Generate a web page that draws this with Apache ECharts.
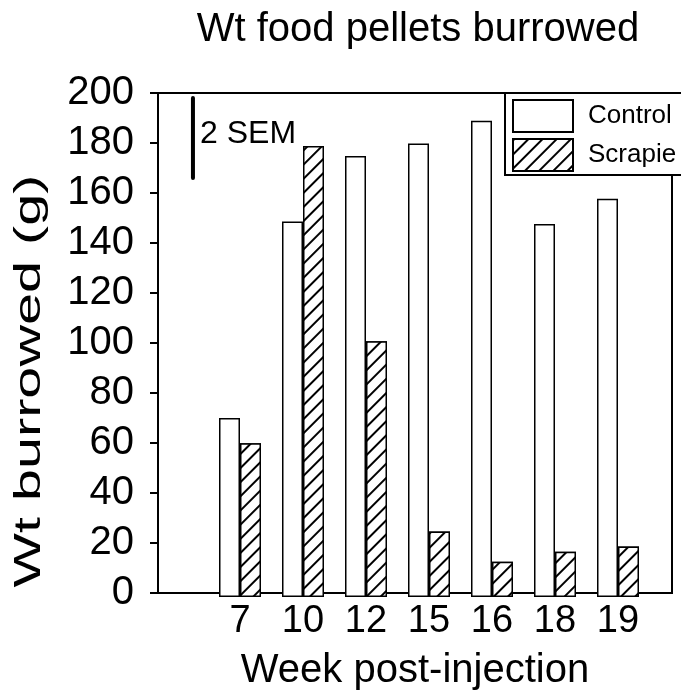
<!DOCTYPE html>
<html>
<head>
<meta charset="utf-8">
<script src="https://cdn.jsdelivr.net/npm/echarts@6/dist/echarts.min.js"></script>
<style>
html,body{margin:0;padding:0;background:#fff;}
#chart{width:681px;height:696px;}
</style>
</head>
<body>
<div id="chart"></div>
<script>
// ---- data ----
const weeks = ['7', '10', '12', '15', '16', '18', '19'];
const control = [71, 149, 175, 180, 189, 148, 158];
const scrapie = [61, 179, 101.5, 26, 14, 18, 20];
const yMin = 0, yMax = 200, yStep = 20;
const semTop = 198;      // top of the 2-SEM scale bar (g)
const semLength = 32;    // length of 2 SEM (g)
const titleText = 'Wt food pellets burrowed';
const xName = 'Week post-injection';
const yName = 'Wt burrowed (g)';

const FONT = '"Liberation Sans", Arial, sans-serif';
const chart = echarts.init(document.getElementById('chart'));

const hatch = {
  symbol: 'rect', symbolSize: 1, color: '#000', backgroundColor: '#fff',
  dashArrayX: [1, 0], dashArrayY: [1.2, 8], rotation: -Math.PI / 4
};

chart.setOption({
  animation: false,
  backgroundColor: '#fff',
  title: {
    text: titleText, left: 413, top: 5, textAlign: 'center',
    textStyle: { fontFamily: FONT, fontSize: 40, fontWeight: 'normal', color: '#000' }
  },
  legend: {
    left: 505, top: 93, orient: 'vertical',
    itemWidth: 60, itemHeight: 32, itemGap: 5,
    padding: [6, 7, 3, 7],
    borderColor: '#000', borderWidth: 2, backgroundColor: '#fff',
    textStyle: { fontFamily: FONT, fontSize: 26, color: '#000', padding: [4, 0, 0, 10] },
    data: [{ name: 'Control', icon: 'rect' }, { name: 'Scrapie', icon: 'rect' }]
  },
  grid: [
    { left: 158, right: 9, top: 93, bottom: 99, show: true, borderColor: '#000', borderWidth: 2, backgroundColor: 'transparent' },
    { left: 208.5, right: 31.5, top: 93, bottom: 99 }
  ],
  xAxis: [
    {
      gridIndex: 0, type: 'value', min: 0, max: 1,
      axisLine: { show: true, lineStyle: { color: '#000', width: 2 } },
      axisTick: { show: false }, axisLabel: { show: false }, splitLine: { show: false },
      name: xName, nameLocation: 'middle', nameGap: 58,
      nameTextStyle: { fontFamily: FONT, fontSize: 40, color: '#000' }
    },
    {
      gridIndex: 1, type: 'category', data: weeks,
      axisLine: { show: false }, axisTick: { show: false },
      axisLabel: { fontFamily: FONT, fontSize: 38, color: '#000', margin: 6 }
    }
  ],
  yAxis: [
    {
      gridIndex: 0, type: 'value', min: yMin, max: yMax, interval: yStep,
      axisLine: { show: true, lineStyle: { color: '#000', width: 2 } },
      axisTick: { show: true, inside: false, length: 8, lineStyle: { color: '#000', width: 2 } },
      axisLabel: { fontFamily: FONT, fontSize: 40, color: '#000', margin: 24 },
      splitLine: { show: false }
    },
    {
      gridIndex: 1, type: 'value', min: yMin, max: yMax, show: false
    }
  ],
  graphic: [
    {
      type: 'text', x: 30, y: 381, rotation: Math.PI / 2, scaleX: 1.6,
      style: { text: yName, fontFamily: FONT, fontSize: 36, fill: '#000', textAlign: 'center', textVerticalAlign: 'middle' }
    },
    {
      type: 'text', x: 200, y: 118,
      style: { text: '2 SEM', fontFamily: FONT, fontSize: 32, fill: '#000', textAlign: 'left', textVerticalAlign: 'top' }
    }
  ],
  series: [
    {
      name: 'Control', type: 'bar', xAxisIndex: 1, yAxisIndex: 1,
      data: control, barWidth: 21, barGap: '0%',
      itemStyle: { color: '#fff', borderColor: '#000', borderWidth: 1.5 }
    },
    {
      name: 'Scrapie', type: 'bar', xAxisIndex: 1, yAxisIndex: 1,
      data: scrapie, barWidth: 21, barGap: '0%',
      itemStyle: { color: '#fff', borderColor: '#000', borderWidth: 1.5, decal: hatch }
    },
    {
      name: 'sem', type: 'line', xAxisIndex: 0, yAxisIndex: 0,
      data: [[0.068, semTop], [0.068, semTop - semLength]],
      symbol: 'none', silent: true,
      lineStyle: { color: '#000', width: 4, cap: 'round' }
    }
  ]
});
</script>
</body>
</html>
